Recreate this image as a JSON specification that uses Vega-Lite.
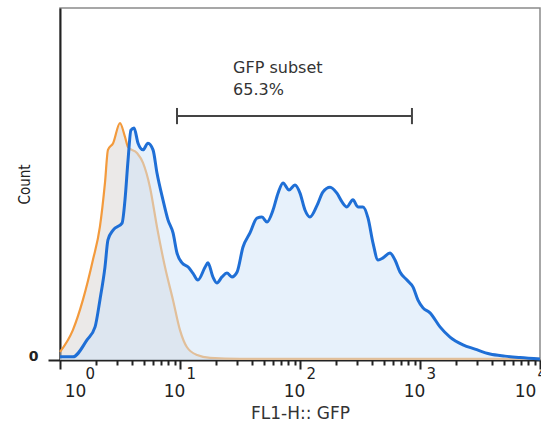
{
  "$schema": "https://vega.github.io/schema/vega-lite/v6.json",
  "width": 480,
  "height": 352,
  "autosize": {"type": "none"},
  "padding": {"left": 60, "top": 8, "right": 1, "bottom": 68},
  "background": "white",
  "config": {
    "view": {"stroke": "#8a8a8a", "strokeWidth": 1.5},
    "axis": {"grid": false},
    "font": "DejaVu Sans"
  },
  "datasets": {
    "control": [
      {"fl1": 1.00, "count": 2.3}, {"fl1": 1.28, "count": 8.5}, {"fl1": 1.55, "count": 17.0},
      {"fl1": 1.88, "count": 28.4}, {"fl1": 2.15, "count": 37.8}, {"fl1": 2.37, "count": 50.3},
      {"fl1": 2.51, "count": 59.7}, {"fl1": 2.77, "count": 61.6}, {"fl1": 3.16, "count": 67.3},
      {"fl1": 3.48, "count": 63.4}, {"fl1": 3.69, "count": 60.5}, {"fl1": 4.38, "count": 58.8},
      {"fl1": 4.92, "count": 56.0}, {"fl1": 5.62, "count": 49.1}, {"fl1": 6.43, "count": 37.8},
      {"fl1": 7.50, "count": 26.4}, {"fl1": 8.75, "count": 17.0}, {"fl1": 10.0, "count": 8.5},
      {"fl1": 11.4, "count": 3.7}, {"fl1": 13.9, "count": 1.4}, {"fl1": 17.8, "count": 0.6},
      {"fl1": 31.6, "count": 0.3}, {"fl1": 100, "count": 0.3}, {"fl1": 1000, "count": 0.3},
      {"fl1": 10000, "count": 0.3}
    ],
    "gfp": [
      {"fl1": 1.00, "count": 0.9}, {"fl1": 1.28, "count": 0.9}, {"fl1": 1.68, "count": 5.7},
      {"fl1": 1.96, "count": 9.4}, {"fl1": 2.15, "count": 17.0}, {"fl1": 2.37, "count": 26.4},
      {"fl1": 2.51, "count": 34.1}, {"fl1": 2.77, "count": 36.9}, {"fl1": 3.29, "count": 38.9},
      {"fl1": 3.48, "count": 45.5}, {"fl1": 3.69, "count": 56.8}, {"fl1": 3.90, "count": 65.3},
      {"fl1": 4.14, "count": 65.9}, {"fl1": 4.47, "count": 61.6}, {"fl1": 4.92, "count": 59.7},
      {"fl1": 5.41, "count": 61.6}, {"fl1": 5.96, "count": 59.7}, {"fl1": 6.43, "count": 53.1},
      {"fl1": 7.21, "count": 45.5}, {"fl1": 7.94, "count": 39.8}, {"fl1": 8.75, "count": 36.1},
      {"fl1": 9.44, "count": 30.4}, {"fl1": 10.4, "count": 27.6}, {"fl1": 11.7, "count": 26.4},
      {"fl1": 12.8, "count": 24.7}, {"fl1": 14.1, "count": 22.7}, {"fl1": 16.2, "count": 26.4},
      {"fl1": 17.1, "count": 27.6}, {"fl1": 18.8, "count": 23.6}, {"fl1": 20.3, "count": 21.9},
      {"fl1": 22.4, "count": 23.6}, {"fl1": 24.6, "count": 24.7}, {"fl1": 27.1, "count": 23.6},
      {"fl1": 29.9, "count": 25.0}, {"fl1": 33.5, "count": 32.1}, {"fl1": 38.3, "count": 36.1},
      {"fl1": 43.8, "count": 40.3}, {"fl1": 48.2, "count": 40.6}, {"fl1": 53.1, "count": 39.2},
      {"fl1": 59.6, "count": 42.6}, {"fl1": 65.6, "count": 47.4}, {"fl1": 72.2, "count": 50.3},
      {"fl1": 81.0, "count": 48.3}, {"fl1": 90.8, "count": 49.7}, {"fl1": 100, "count": 47.4},
      {"fl1": 110, "count": 42.6}, {"fl1": 121, "count": 40.6}, {"fl1": 139, "count": 44.0},
      {"fl1": 155, "count": 47.7}, {"fl1": 178, "count": 49.1}, {"fl1": 203, "count": 47.4},
      {"fl1": 224, "count": 44.9}, {"fl1": 246, "count": 43.5}, {"fl1": 276, "count": 45.5},
      {"fl1": 304, "count": 43.5}, {"fl1": 335, "count": 43.5}, {"fl1": 369, "count": 40.3},
      {"fl1": 406, "count": 33.2}, {"fl1": 447, "count": 28.4}, {"fl1": 492, "count": 29.0},
      {"fl1": 562, "count": 30.4}, {"fl1": 619, "count": 28.4}, {"fl1": 681, "count": 25.0},
      {"fl1": 779, "count": 22.7}, {"fl1": 875, "count": 20.7}, {"fl1": 962, "count": 17.0},
      {"fl1": 1059, "count": 14.8}, {"fl1": 1212, "count": 13.4}, {"fl1": 1468, "count": 9.4},
      {"fl1": 1778, "count": 6.5}, {"fl1": 2281, "count": 4.3}, {"fl1": 2873, "count": 3.1},
      {"fl1": 3831, "count": 1.7}, {"fl1": 5107, "count": 1.1}, {"fl1": 6813, "count": 0.7},
      {"fl1": 10000, "count": 0.3}
    ],
    "gate": [{"lo": 9.44, "hi": 857, "level": 69.3}],
    "caps": [{"pos": 9.44, "lo": 67.0, "hi": 71.6}, {"pos": 857, "lo": 67.0, "hi": 71.6}],
    "notes": [{"text": "GFP subset", "pos": 27.7, "level": 83.0}, {"text": "65.3%", "pos": 27.7, "level": 76.7}]
  },
  "resolve": {"axis": {"x": "independent"}},
  "layer": [
    {
      "data": {"name": "control"},
      "mark": {"type": "area", "interpolate": "monotone", "fill": "#d8d3d2", "fillOpacity": 0.5},
      "encoding": {
        "x": {
          "field": "fl1", "type": "quantitative",
          "scale": {"type": "log", "domain": [1, 10000]},
          "axis": {
            "orient": "bottom",
            "values": [1,2,3,4,5,6,7,8,9,10,20,30,40,50,60,70,80,90,100,200,300,400,500,600,700,800,900,1000,2000,3000,4000,5000,6000,7000,8000,9000,10000],
            "labelExpr": "indexof([1,10,100,1000,10000], datum.value) >= 0 ? '10' : ''",
            "tickSize": {"condition": {"test": "indexof([1,10,100,1000,10000], datum.value) >= 0", "value": 9}, "value": 5},
            "labelOffset": {"condition": [{"test": "datum.value == 1", "value": 15}, {"test": "datum.value == 10000", "value": -15}], "value": -6},
            "tickColor": "#222", "tickWidth": 2,
            "domainColor": "#222", "domainWidth": 2,
            "labelFont": "DejaVu Sans", "labelFontSize": 17, "labelColor": "#222",
            "labelPadding": 14, "labelBaseline": "top",
            "labelOverlap": false, "labelBound": false, "labelFlush": false,
            "title": "FL1-H:: GFP", "titleFont": "DejaVu Sans", "titleFontSize": 17,
            "titleFontWeight": "normal", "titleColor": "#333", "titlePadding": 6
          }
        },
        "y": {
          "field": "count", "type": "quantitative",
          "scale": {"domain": [0, 100], "nice": false},
          "axis": {
            "values": [0],
            "title": "Count", "titleFont": "DejaVu Sans Condensed, Liberation Sans, sans-serif", "titleFontSize": 15,
            "titleFontWeight": "normal", "titleColor": "#222", "titlePadding": -4,
            "labelFont": "DejaVu Sans", "labelFontSize": 14, "labelFontWeight": "bold",
            "labelColor": "#222", "labelBaseline": "alphabetic", "labelPadding": 10,
            "tickSize": 12, "tickColor": "#222", "tickWidth": 2,
            "domainColor": "#222", "domainWidth": 2
          }
        }
      }
    },
    {
      "data": {"name": "control"},
      "mark": {"type": "line", "interpolate": "monotone", "stroke": "#f39a3c", "strokeWidth": 2.2},
      "encoding": {
        "x": {"field": "fl1", "type": "quantitative", "scale": {"type": "log", "domain": [1, 10000]}, "axis": null},
        "y": {"field": "count", "type": "quantitative", "scale": {"domain": [0, 100], "nice": false}}
      }
    },
    {
      "data": {"name": "gfp"},
      "mark": {"type": "area", "interpolate": "monotone", "fill": "#cfe4f8", "fillOpacity": 0.5},
      "encoding": {
        "x": {"field": "fl1", "type": "quantitative", "scale": {"type": "log", "domain": [1, 10000]}, "axis": null},
        "y": {"field": "count", "type": "quantitative", "scale": {"domain": [0, 100], "nice": false}}
      }
    },
    {
      "data": {"name": "gfp"},
      "mark": {"type": "line", "interpolate": "monotone", "stroke": "#1f6fd6", "strokeWidth": 3},
      "encoding": {
        "x": {
          "field": "fl1", "type": "quantitative",
          "scale": {"type": "log", "domain": [1, 10000]},
          "axis": {
            "orient": "bottom",
            "values": [1, 10, 100, 1000, 10000],
            "labelExpr": "datum.value == 1 ? '0' : datum.value == 10 ? '1' : datum.value == 100 ? '2' : datum.value == 1000 ? '3' : '4'",
            "ticks": false, "domain": false, "grid": false,
            "labelAlign": "left",
            "labelOffset": {"condition": [{"test": "datum.value == 1", "value": 25}, {"test": "datum.value == 10000", "value": -3}], "value": 6},
            "labelFont": "DejaVu Sans", "labelFontSize": 15, "labelColor": "#222",
            "labelPadding": 6, "labelBaseline": "top",
            "labelOverlap": false, "labelBound": false, "labelFlush": false,
            "title": null
          }
        },
        "y": {"field": "count", "type": "quantitative", "scale": {"domain": [0, 100], "nice": false}}
      }
    },
    {
      "data": {"name": "gate"},
      "mark": {"type": "rule", "stroke": "#444", "strokeWidth": 2},
      "encoding": {
        "x": {"field": "lo", "type": "quantitative", "scale": {"type": "log", "domain": [1, 10000]}, "axis": null},
        "x2": {"field": "hi"},
        "y": {"field": "level", "type": "quantitative", "scale": {"domain": [0, 100], "nice": false}}
      }
    },
    {
      "data": {"name": "caps"},
      "mark": {"type": "rule", "stroke": "#444", "strokeWidth": 2},
      "encoding": {
        "x": {"field": "pos", "type": "quantitative", "scale": {"type": "log", "domain": [1, 10000]}, "axis": null},
        "y": {"field": "lo", "type": "quantitative", "scale": {"domain": [0, 100], "nice": false}},
        "y2": {"field": "hi"}
      }
    },
    {
      "data": {"name": "notes"},
      "mark": {"type": "text", "align": "left", "baseline": "middle", "font": "DejaVu Sans", "fontSize": 16, "fill": "#333"},
      "encoding": {
        "x": {"field": "pos", "type": "quantitative", "scale": {"type": "log", "domain": [1, 10000]}, "axis": null},
        "y": {"field": "level", "type": "quantitative", "scale": {"domain": [0, 100], "nice": false}},
        "text": {"field": "text"}
      }
    }
  ]
}
